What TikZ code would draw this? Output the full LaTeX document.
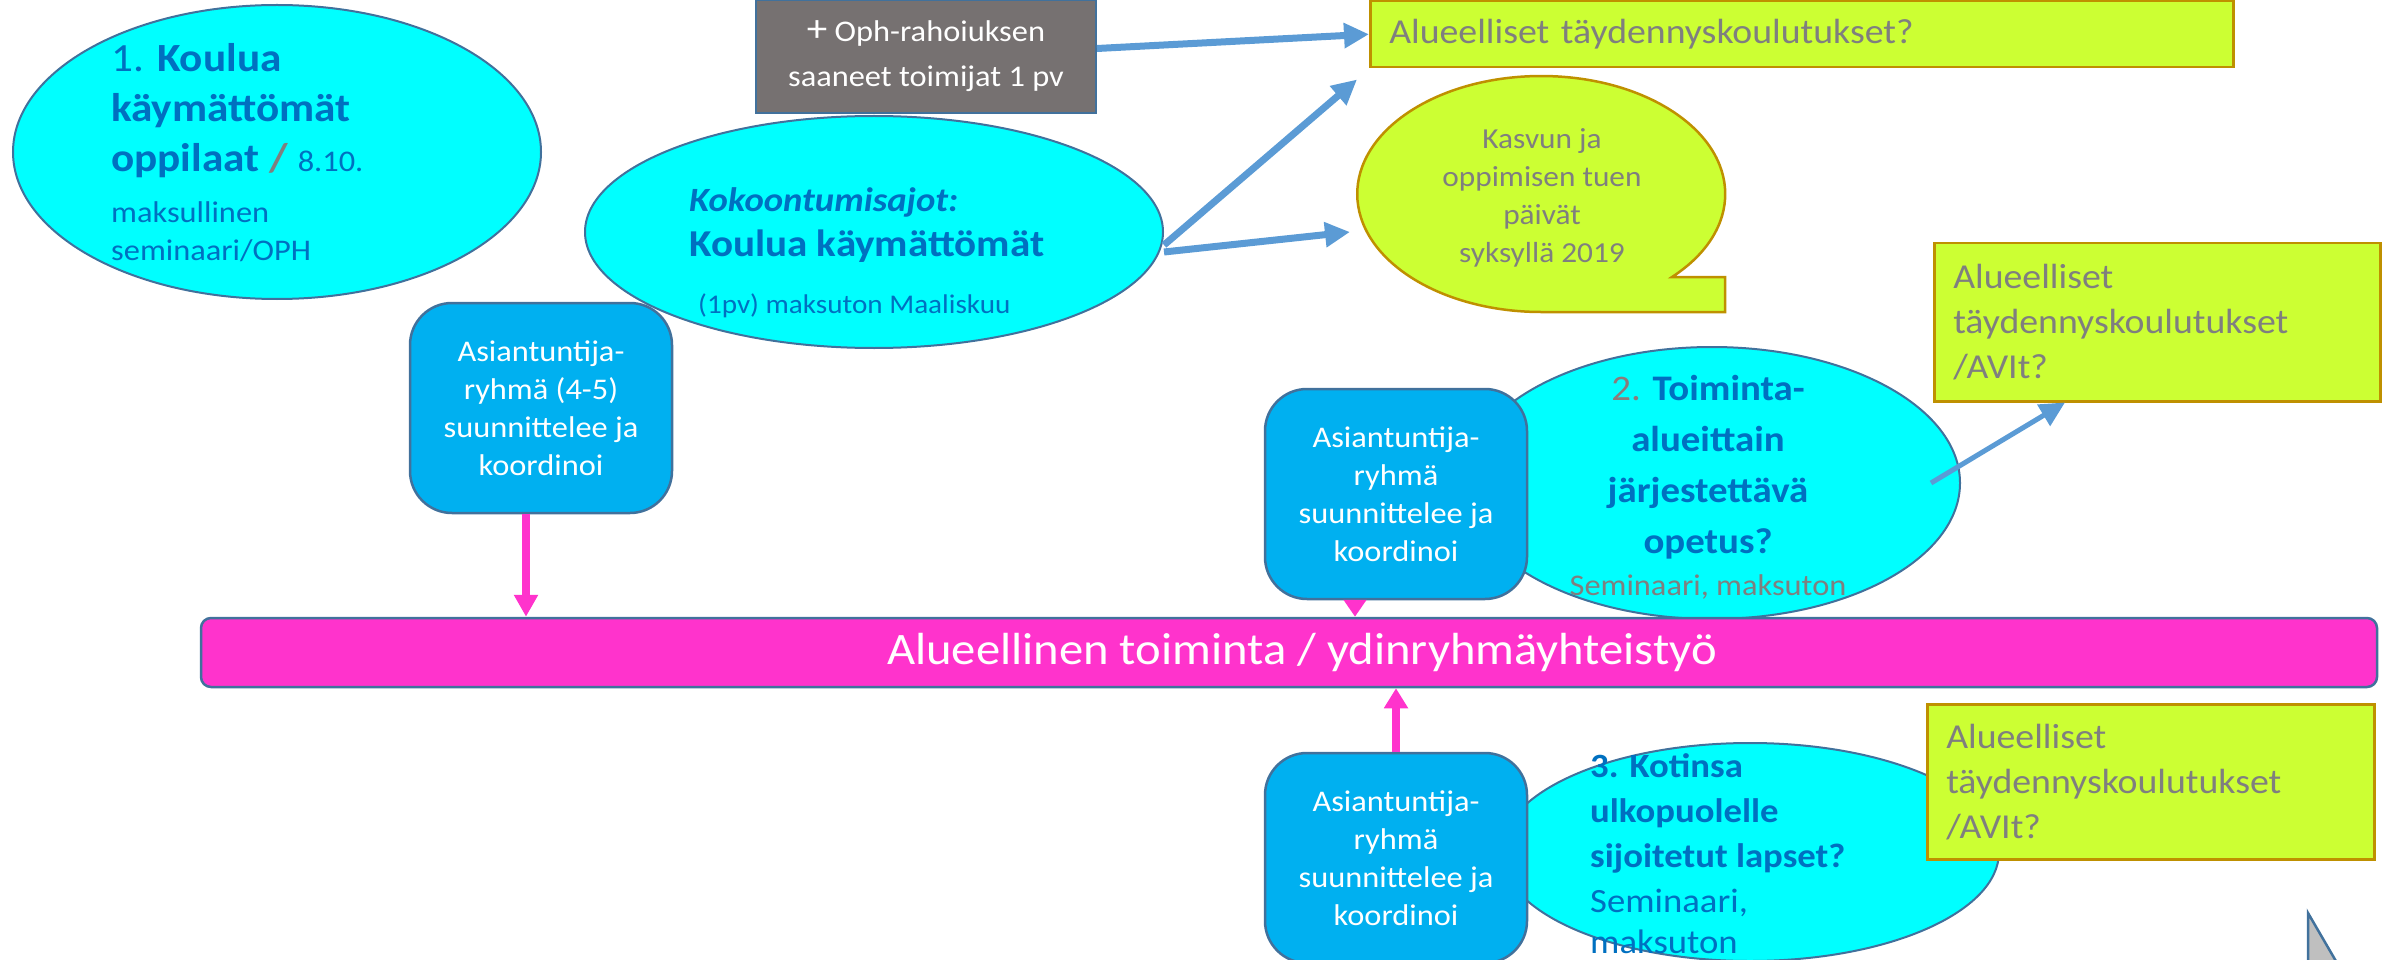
\documentclass[tikz,border=0pt]{standalone}
\usepackage{fontspec}
\setmainfont{Carlito}[FakeStretch=1.08]
\usetikzlibrary{arrows.meta,positioning,shapes.geometric}
\definecolor{syaani}{HTML}{00FFFF}
\definecolor{reuna}{HTML}{41719C}
\definecolor{tummansin}{HTML}{0070C0}
\definecolor{taivas}{HTML}{00B0F0}
\definecolor{harmaa}{HTML}{767171}
\definecolor{keltavihrea}{HTML}{CCFF33}
\definecolor{kulta}{HTML}{BF9000}
\definecolor{harmaateksti}{HTML}{7F7F7F}
\definecolor{kakkonen}{HTML}{8C7B7B}
\definecolor{pinkki}{HTML}{FF33CC}
\definecolor{nuolisin}{HTML}{5B9BD5}
\definecolor{kolmio}{HTML}{BFBFBF}
\tikzset{
  soikio/.style={ellipse,draw=reuna,line width=2pt,fill=syaani,inner sep=0pt},
  ryhma/.style={draw=reuna,line width=2.5pt,fill=taivas,rounded corners=42pt,minimum width=262pt,
                minimum height=210pt,align=center,text=white,font=\fontsize{30}{38}\selectfont},
  kelta/.style={draw=kulta,line width=2.5pt,fill=keltavihrea,anchor=north west,align=left,
                text=harmaateksti,inner xsep=19pt,inner ysep=0pt},
  teksti/.style={anchor=base west,align=left,inner sep=0pt,text=tummansin},
  sininuoli/.style={draw=nuolisin,line width=7pt,-{Triangle[length=25pt,width=24pt]}},
  pinkkinuoli/.style={draw=pinkki,line width=8pt,-{Triangle[length=22pt,width=23pt]}},
}

\begin{document}
\begin{tikzpicture}[x=1pt,y=-1pt]
  \useasboundingbox (0,0) rectangle (2396,960);

  \node[soikio,minimum width=528pt,minimum height=294pt] (koulua) at (277,152) {};
  \node[teksti,font=\fontsize{40}{50}\selectfont] (kouluateksti) at (111,172)
    {1. \textbf{Koulua}\\\textbf{käymättömät}\\\textbf{oppilaat} {\color{harmaateksti}\textbf{/}} {\fontsize{30}{38}\selectfont 8.10.}};
  \node[teksti,font=\fontsize{30}{38}\selectfont] (seminaari1) at (111,260) {maksullinen\\seminaari/OPH};

  \node[draw=reuna,line width=2pt,fill=harmaa,text=white,align=center,font=\fontsize{30}{45}\selectfont,
        minimum width=340pt,minimum height=113pt] (oph) at (926,56.5)
    {{\fontsize{38}{45}\selectfont +} Oph-rahoiuksen\\saaneet toimijat 1 pv};

  \node[soikio,minimum width=578pt,minimum height=232pt] (kokoontuminen) at (874,232) {};
  \node[teksti,font=\fontsize{38}{44}\selectfont] (kokteksti) at (689,256)
    {{\fontsize{34}{44}\selectfont\textbf{\textit{Kokoontumisajot:}}}\\\textbf{Koulua käymättömät}};
  \node[teksti,font=\fontsize{27}{34}\selectfont] (maaliskuu) at (698,313) {(1pv) maksuton Maaliskuu};

  \node[ryhma] (ryhma1) at (541,408) {Asiantuntija-\\ryhmä (4-5)\\suunnittelee ja\\koordinoi};

  \node[kelta,minimum width=863pt,minimum height=66pt,text width=825pt,font=\fontsize{35}{45}\selectfont]
    (kelta1) at (1369,0) {Alueelliset täydennyskoulutukset?};

  \path[draw=kulta,line width=2.5pt,fill=keltavihrea] (1672,277)
    arc[start angle=44.7,end angle=-270,x radius=184,y radius=118] -- (1725,312) -- (1725,277) -- cycle;
  \node[anchor=base,align=center,inner sep=0pt,text=harmaateksti,font=\fontsize{29}{38}\selectfont]
    (kupla) at (1542,262) {Kasvun ja\\oppimisen tuen\\päivät\\syksyllä 2019};
  \coordinate (kuplaL) at (1350,232);

  \draw[sininuoli] ([yshift=8pt]oph.east) -- (kelta1.west);
  \draw[sininuoli] ([yshift=-13pt]kokoontuminen.east) -- ([xshift=-12pt,yshift=-11pt]kelta1.south west);
  \draw[sininuoli] ([yshift=-20pt]kokoontuminen.east) -- (kuplaL);

  \node[soikio,minimum width=496pt,minimum height=272pt] (toiminta) at (1712,483) {};
  \node[anchor=base,align=center,inner sep=0pt,text=tummansin,font=\fontsize{36}{51}\selectfont]
    (toimteksti) at (1708,595)
    {{\color{kakkonen}2.} \textbf{Toiminta-}\\\textbf{alueittain}\\\textbf{järjestettävä}\\\textbf{opetus?}\\[-9pt]
     {\color{harmaateksti}\fontsize{30}{34}\selectfont Seminaari, maksuton}};
  \node[ryhma] (ryhma2) at (1396,494) {Asiantuntija-\\ryhmä\\suunnittelee ja\\koordinoi};

  \node[kelta,minimum width=446pt,minimum height=158pt,text width=408pt,font=\fontsize{35}{45}\selectfont]
    (kelta2) at (1933,242) {Alueelliset\\täydennyskoulutukset\\/AVIt?};
  \draw[sininuoli,line width=5pt] ([xshift=-30pt]toiminta.east) -- ([xshift=132pt]kelta2.south west);

  \node[draw=reuna,line width=2.5pt,fill=pinkki,rounded corners=10pt,minimum width=2176pt,minimum height=69pt,
        text=white,font=\fontsize{45}{50}\selectfont] (palkki) at (1289,652.5)
    {\hspace*{26pt}Alueellinen toiminta / ydinryhmäyhteistyö};

  \draw[pinkkinuoli] ([xshift=-15pt]ryhma1.south) -- ([xshift=-15pt]ryhma1.south |- palkki.north);
  \draw[pinkkinuoli,-{Triangle[length=17pt,width=22pt]}] ([xshift=-41pt]ryhma2.south)
    -- ([xshift=-41pt]ryhma2.south |- palkki.north);

  \node[soikio,minimum width=498pt,minimum height=218pt] (kotinsa) at (1750,852) {};
  \node[teksti,font=\fontsize{34}{45}\selectfont] (kotiteksti) at (1590,953)
    {\textbf{3. Kotinsa}\\\textbf{ulkopuolelle}\\\textbf{sijoitetut lapset?}\\Seminaari,\\[-4pt]maksuton};
  \node[ryhma] (ryhma3) at (1396,858) {Asiantuntija-\\ryhmä\\suunnittelee ja\\koordinoi};
  \draw[pinkkinuoli,-{Triangle[length=20pt,width=23pt]}] (ryhma3.north) -- (ryhma3.north |- palkki.south);

  \node[kelta,minimum width=447pt,minimum height=155pt,text width=409pt,font=\fontsize{35}{45}\selectfont]
    (kelta3) at (1926,703) {Alueelliset\\täydennyskoulutukset\\/AVIt?};

  \draw[draw=reuna,line width=2.5pt,fill=kolmio] (2308,913) -- (2308,975) -- (2344,975) -- cycle;
\end{tikzpicture}
\end{document}
